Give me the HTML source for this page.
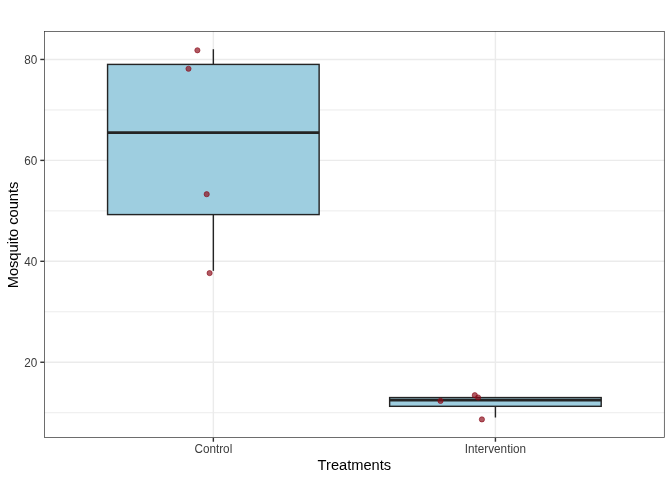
<!DOCTYPE html><html><head><meta charset="utf-8"><style>html,body{margin:0;padding:0;background:#fff;}svg{display:block;will-change:transform;}text{font-family:"Liberation Sans",sans-serif;}</style></head><body>
<svg width="672" height="480" viewBox="0 0 672 480">
<rect x="0" y="0" width="672" height="480" fill="#fff"/>
<line x1="44.1" x2="664.67" y1="412.72" y2="412.72" stroke="#EBEBEB" stroke-width="0.95"/>
<line x1="44.1" x2="664.67" y1="311.78" y2="311.78" stroke="#EBEBEB" stroke-width="0.95"/>
<line x1="44.1" x2="664.67" y1="210.85" y2="210.85" stroke="#EBEBEB" stroke-width="0.95"/>
<line x1="44.1" x2="664.67" y1="109.93" y2="109.93" stroke="#EBEBEB" stroke-width="0.95"/>
<line x1="44.1" x2="664.67" y1="362.25" y2="362.25" stroke="#EBEBEB" stroke-width="1.42"/>
<line x1="44.1" x2="664.67" y1="261.32" y2="261.32" stroke="#EBEBEB" stroke-width="1.42"/>
<line x1="44.1" x2="664.67" y1="160.39" y2="160.39" stroke="#EBEBEB" stroke-width="1.42"/>
<line x1="44.1" x2="664.67" y1="59.46" y2="59.46" stroke="#EBEBEB" stroke-width="1.42"/>
<line x1="213.35" x2="213.35" y1="31.0" y2="437.95" stroke="#EBEBEB" stroke-width="1.42"/>
<line x1="495.42" x2="495.42" y1="31.0" y2="437.95" stroke="#EBEBEB" stroke-width="1.42"/>
<line x1="213.35" x2="213.35" y1="49.22" y2="64.41" stroke="#242424" stroke-width="1.42"/>
<line x1="213.35" x2="213.35" y1="214.59" y2="270.81" stroke="#242424" stroke-width="1.42"/>
<rect x="107.57" y="64.41" width="211.56" height="150.18" fill="#9ECEE0" stroke="#242424" stroke-width="1.42"/>
<line x1="107.57" x2="319.13" y1="132.63" y2="132.63" stroke="#242424" stroke-width="2.85"/>
<line x1="495.42" x2="495.42" y1="397.58" y2="397.58" stroke="#242424" stroke-width="1.42"/>
<line x1="495.42" x2="495.42" y1="406.31" y2="417.51" stroke="#242424" stroke-width="1.42"/>
<rect x="389.64" y="397.58" width="211.56" height="8.73" fill="#9ECEE0" stroke="#242424" stroke-width="1.42"/>
<line x1="389.64" x2="601.20" y1="400.10" y2="400.10" stroke="#242424" stroke-width="2.85"/>
<circle cx="197.4" cy="50.3" r="2.6" fill="#8B0A18" fill-opacity="0.68" stroke="#8B0A18" stroke-opacity="0.68" stroke-width="0.9"/>
<circle cx="188.5" cy="68.75" r="2.6" fill="#8B0A18" fill-opacity="0.68" stroke="#8B0A18" stroke-opacity="0.68" stroke-width="0.9"/>
<circle cx="206.7" cy="194.2" r="2.6" fill="#8B0A18" fill-opacity="0.68" stroke="#8B0A18" stroke-opacity="0.68" stroke-width="0.9"/>
<circle cx="209.6" cy="273.1" r="2.6" fill="#8B0A18" fill-opacity="0.68" stroke="#8B0A18" stroke-opacity="0.68" stroke-width="0.9"/>
<circle cx="474.8" cy="395.2" r="2.6" fill="#8B0A18" fill-opacity="0.68" stroke="#8B0A18" stroke-opacity="0.68" stroke-width="0.9"/>
<circle cx="478.1" cy="397.5" r="2.6" fill="#8B0A18" fill-opacity="0.68" stroke="#8B0A18" stroke-opacity="0.68" stroke-width="0.9"/>
<circle cx="440.5" cy="400.9" r="2.6" fill="#8B0A18" fill-opacity="0.68" stroke="#8B0A18" stroke-opacity="0.68" stroke-width="0.9"/>
<circle cx="481.9" cy="419.4" r="2.6" fill="#8B0A18" fill-opacity="0.68" stroke="#8B0A18" stroke-opacity="0.68" stroke-width="0.9"/>
<rect x="44.455" y="31.355" width="619.860" height="406.240" fill="none" stroke="#333333" stroke-width="0.71"/>
<line x1="40.30" x2="44.1" y1="362.25" y2="362.25" stroke="#333333" stroke-width="1.42"/>
<text transform="translate(37.4,366.75) scale(1,1.02)" font-size="11.73" fill="#3C3C3C" text-anchor="end">20</text>
<line x1="40.30" x2="44.1" y1="261.32" y2="261.32" stroke="#333333" stroke-width="1.42"/>
<text transform="translate(37.4,265.82) scale(1,1.02)" font-size="11.73" fill="#3C3C3C" text-anchor="end">40</text>
<line x1="40.30" x2="44.1" y1="160.39" y2="160.39" stroke="#333333" stroke-width="1.42"/>
<text transform="translate(37.4,164.89) scale(1,1.02)" font-size="11.73" fill="#3C3C3C" text-anchor="end">60</text>
<line x1="40.30" x2="44.1" y1="59.46" y2="59.46" stroke="#333333" stroke-width="1.42"/>
<text transform="translate(37.4,63.96) scale(1,1.02)" font-size="11.73" fill="#3C3C3C" text-anchor="end">80</text>
<line x1="213.35" x2="213.35" y1="437.95" y2="441.75" stroke="#333333" stroke-width="1.42"/>
<text transform="translate(213.35,453.0) scale(1,1.02)" font-size="11.73" fill="#3C3C3C" text-anchor="middle">Control</text>
<line x1="495.42" x2="495.42" y1="437.95" y2="441.75" stroke="#333333" stroke-width="1.42"/>
<text transform="translate(495.42,453.0) scale(1,1.02)" font-size="11.73" fill="#3C3C3C" text-anchor="middle">Intervention</text>
<text transform="translate(354.38,469.6) scale(1,1.04)" font-size="14.67" fill="#000" text-anchor="middle">Treatments</text>
<text transform="translate(18.3,234.97) rotate(-90) scale(1,1.04)" font-size="14.67" fill="#000" text-anchor="middle">Mosquito counts</text>
</svg></body></html>
